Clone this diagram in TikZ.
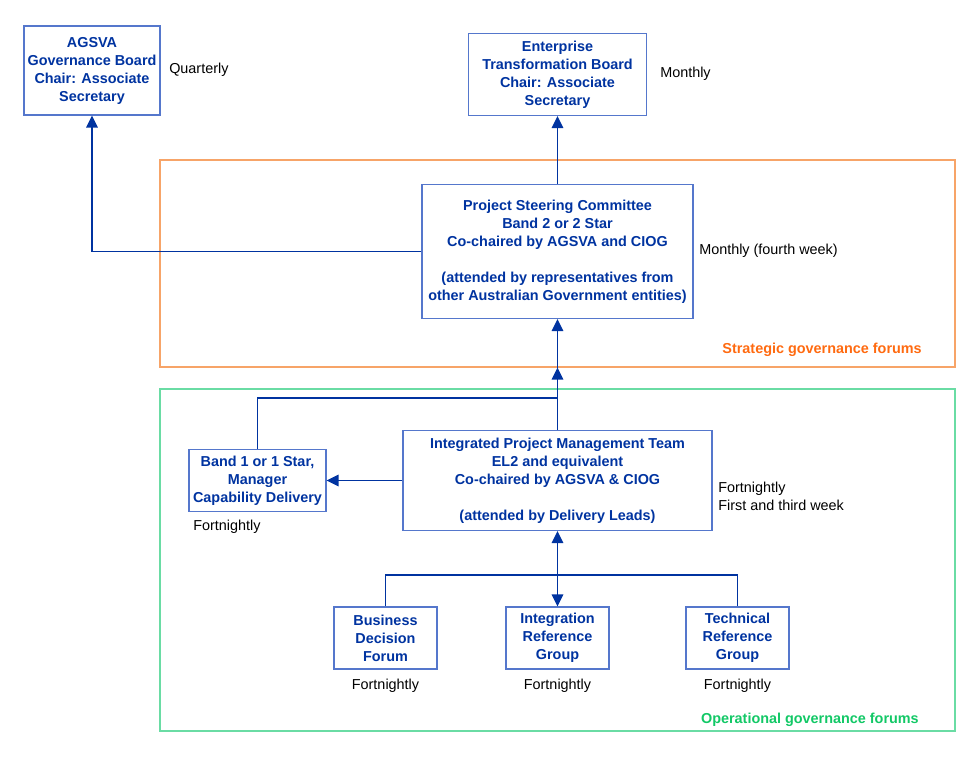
\documentclass[tikz,border=0pt]{standalone}
\usepackage{fontspec}
\setmainfont{Liberation Sans}
\usetikzlibrary{positioning, arrows.meta}

\definecolor{boxtext}{HTML}{0033A0}
\definecolor{boxline}{HTML}{5577CC}
\definecolor{stratline}{HTML}{F7A468}
\definecolor{strattext}{HTML}{FF6A10}
\definecolor{operline}{HTML}{6ADCA4}
\definecolor{opertext}{HTML}{12C866}

\tikzset{
  board/.style={draw=boxline, line width=0.8pt, text=boxtext, align=center,
    inner sep=0pt, font=\fontsize{10.8}{13.5}\selectfont\bfseries},
  freq/.style={anchor=west, align=left, inner sep=0pt,
    font=\fontsize{10.8}{13.5}\selectfont},
  zone/.style={draw=#1, line width=0.8pt, inner sep=0pt},
  zonelabel/.style={anchor=east, inner sep=0pt, text=#1,
    font=\fontsize{10.8}{13.5}\selectfont\bfseries},
  tip/.tip={Triangle[length=9pt, width=8.5pt]},
  link/.style={draw=boxtext, line width=1.4pt, -tip},
  wire/.style={draw=boxtext, line width=1.4pt}
}

\begin{document}
\begin{tikzpicture}[x=0.75pt, y=-0.75pt]
  \useasboundingbox (0,0) rectangle (980,757);

  % Governance areas
  \node[zone=stratline, minimum width=596.25pt, minimum height=155.25pt] (strategic) at (557.5,263.5) {};
  \node[zonelabel=strattext] (stratname) at (922,350) {Strategic governance forums};
  \node[zone=operline, minimum width=596.25pt, minimum height=256.5pt] (operational) at (557.5,560) {};
  \node[zonelabel=opertext] (opername) at (919,720) {Operational governance forums};

  % Top boards
  \node[board, minimum width=102pt, minimum height=66.75pt] (agsva) at (92,70.5)
    {AGSVA\\Governance Board\\Chair: Associate\\Secretary};
  \node[freq] (agsvafreq) at (169,70) {Quarterly};

  \node[board, minimum width=133.5pt, minimum height=61.5pt] (etb) at (557.5,74.5)
    {Enterprise\\Transformation Board\\Chair: Associate\\Secretary};
  \node[freq] (etbfreq) at (660,74) {Monthly};

  % Steering committee
  \node[board, minimum width=203.25pt, minimum height=100.5pt] (psc) at (557.5,251.5)
    {Project Steering Committee\\Band 2 or 2 Star\\Co-chaired by AGSVA and CIOG\\[13.5pt]
     (attended by representatives from\\other Australian Government entities)};
  \node[freq] (pscfreq) at (699,251) {Monthly (fourth week)};

  % Management team
  \node[board, minimum width=231.75pt, minimum height=75pt] (ipmt) at (557.5,480.5)
    {Integrated Project Management Team\\EL2 and equivalent\\Co-chaired by AGSVA \& CIOG\\[13.5pt]
     (attended by Delivery Leads)};
  \node[freq] (ipmtfreq) at (718,496) {Fortnightly\\First and third week};

  \node[board, minimum width=102.75pt, minimum height=46.5pt] (band1) at (257.5,480.5)
    {Band 1 or 1 Star,\\Manager\\Capability Delivery};
  \node[freq] (band1freq) at (193,527) {Fortnightly};

  % Reference groups
  \node[board, minimum width=77.25pt, minimum height=46.5pt] (bdf) at (385.5,638)
    {Business\\Decision\\Forum};
  \node[board, minimum width=77.25pt, minimum height=46.5pt] (irg) at (557.5,638)
    {Integration\\Reference\\Group};
  \node[board, minimum width=77.25pt, minimum height=46.5pt] (trg) at (737.5,638)
    {Technical\\Reference\\Group};
  \node[freq, below=7pt of bdf] (bdffreq) {Fortnightly};
  \node[freq, below=7pt of irg] (irgfreq) {Fortnightly};
  \node[freq, below=7pt of trg] (trgfreq) {Fortnightly};

  % Connectors
  \coordinate (join) at (557.5,398);
  \coordinate (branch) at (557.5,575);
  \draw[link] (psc.west) -| (agsva.south);
  \draw[link] (psc.north) -- (etb.south);
  \draw[link] (ipmt.north) -- (psc.south);
  \draw[link] (band1.north) |- (join) -- (strategic.south);
  \draw[link] (ipmt.west) -- (band1.east);
  \draw[wire] (bdf.north) |- (branch) -| (trg.north);
  \draw[link, tip-tip] (ipmt.south) -- (irg.north);
\end{tikzpicture}
\end{document}
